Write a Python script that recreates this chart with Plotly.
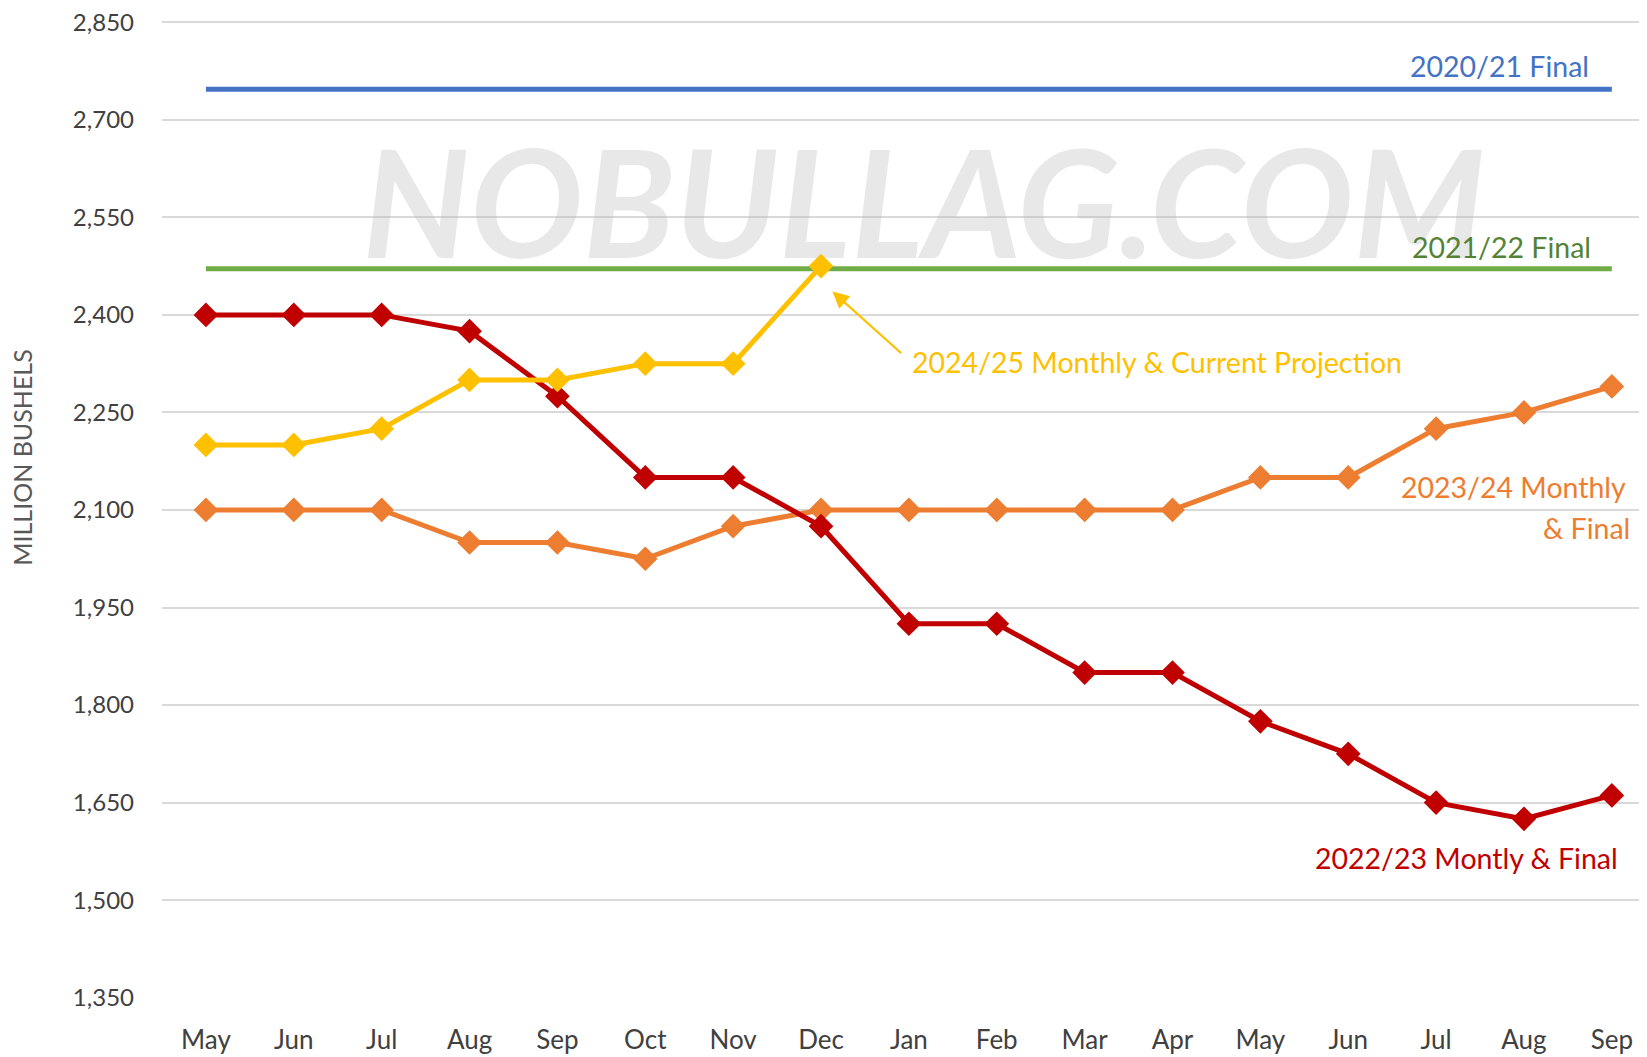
import plotly.graph_objects as go

months = ["May", "Jun", "Jul", "Aug", "Sep", "Oct", "Nov", "Dec", "Jan",
          "Feb", "Mar", "Apr", "May", "Jun", "Jul", "Aug", "Sep"]
idx = list(range(len(months)))

final_2020_21 = 2747
final_2021_22 = 2471
s2022_23 = [2400, 2400, 2400, 2375, 2275, 2150, 2150, 2075, 1925, 1925, 1850,
            1850, 1775, 1725, 1650, 1625, 1661]
s2023_24 = [2100, 2100, 2100, 2050, 2050, 2025, 2075, 2100, 2100, 2100, 2100,
            2100, 2150, 2150, 2225, 2250, 2290]
s2024_25 = [2200, 2200, 2225, 2300, 2300, 2325, 2325, 2475]

y_ticks = [1350, 1500, 1650, 1800, 1950, 2100, 2250, 2400, 2550, 2700, 2850]

FONT = "Lato, 'Open Sans', sans-serif"
BLUE = "#4472C4"
GREEN = "#70AD47"
GREEN_TXT = "#548235"
RED = "#C00000"
ORANGE = "#ED7D31"
YELLOW = "#FFC000"
LBL = 28.5

fig = go.Figure()

# watermark (drawn first so it sits beneath the data)
fig.add_trace(go.Scatter(x=[8.17], y=[2545], mode="text", text=["<b><i>NOBULLAG.COM</i></b>"],
                         textposition="middle center", hoverinfo="skip",
                         textfont=dict(family=FONT, size=150, color="rgba(185,185,185,0.33)")))

fig.add_trace(go.Scatter(x=[idx[0], idx[-1]], y=[final_2020_21] * 2, mode="lines",
                         line=dict(color=BLUE, width=5), hoverinfo="skip"))
fig.add_trace(go.Scatter(x=[idx[0], idx[-1]], y=[final_2021_22] * 2, mode="lines",
                         line=dict(color=GREEN, width=5), hoverinfo="skip"))

marker_kw = dict(symbol="diamond", size=19)
fig.add_trace(go.Scatter(x=idx, y=s2023_24, mode="lines+markers",
                         line=dict(color=ORANGE, width=5),
                         marker=dict(color=ORANGE, **marker_kw)))
fig.add_trace(go.Scatter(x=idx, y=s2022_23, mode="lines+markers",
                         line=dict(color=RED, width=5),
                         marker=dict(color=RED, **marker_kw)))
fig.add_trace(go.Scatter(x=idx[:len(s2024_25)], y=s2024_25, mode="lines+markers",
                         line=dict(color=YELLOW, width=5),
                         marker=dict(color=YELLOW, **marker_kw)))


def lab(x, y, text, color, anchor):
    return dict(x=x, y=y, xref="x", yref="y", text=text, xanchor=anchor, yanchor="middle",
                showarrow=False, font=dict(family=FONT, size=LBL, color=color))


ann = [
    lab(15.76, 2782, "2020/21 Final", BLUE, "right"),
    lab(15.78, 2504, "2021/22 Final", GREEN_TXT, "right"),
    lab(8.01, 2327, "2024/25 Monthly & Current Projection", YELLOW, "left"),
    dict(x=7.13, y=2436, xref="x", yref="y", ax=7.93, ay=2339, axref="x", ayref="y",
         text="", showarrow=True, arrowhead=2, arrowsize=1.5, arrowwidth=2.2,
         arrowcolor=YELLOW),
    lab(16.18, 2136, "2023/24 Monthly", ORANGE, "right"),
    lab(16.23, 2073, "& Final", ORANGE, "right"),
    lab(16.09, 1565, "2022/23 Montly & Final", RED, "right"),
    dict(x=-0.094, y=2181, xref="paper", yref="y", text="MILLION BUSHELS",
         textangle=-90, showarrow=False, xanchor="center", yanchor="middle",
         font=dict(family=FONT, size=25, color="#595959")),
]

fig.update_layout(
    width=1639, height=1049,
    margin=dict(l=154, r=0, t=11, b=59),
    paper_bgcolor="white", plot_bgcolor="white",
    showlegend=False,
    font=dict(family=FONT, color="#404040"),
    annotations=ann,
    xaxis=dict(range=[-0.5, 16.4], tickmode="array", tickvals=idx, ticktext=months,
               showgrid=False, zeroline=False, showline=False,
               tickfont=dict(family=FONT, size=26, color="#404040"),
               ticks="", ticklabelstandoff=24),
    yaxis=dict(range=[1349.5, 2855], tickmode="array", tickvals=y_ticks,
               ticktext=[f"{v:,}" for v in y_ticks],
               showgrid=True, gridcolor="#D9D9D9", gridwidth=1.5,
               zeroline=False, showline=False, ticklabeloverflow="allow",
               tickfont=dict(family=FONT, size=24, color="#404040"),
               ticks="", ticklabelstandoff=27),
)

fig.write_html("out.html")
